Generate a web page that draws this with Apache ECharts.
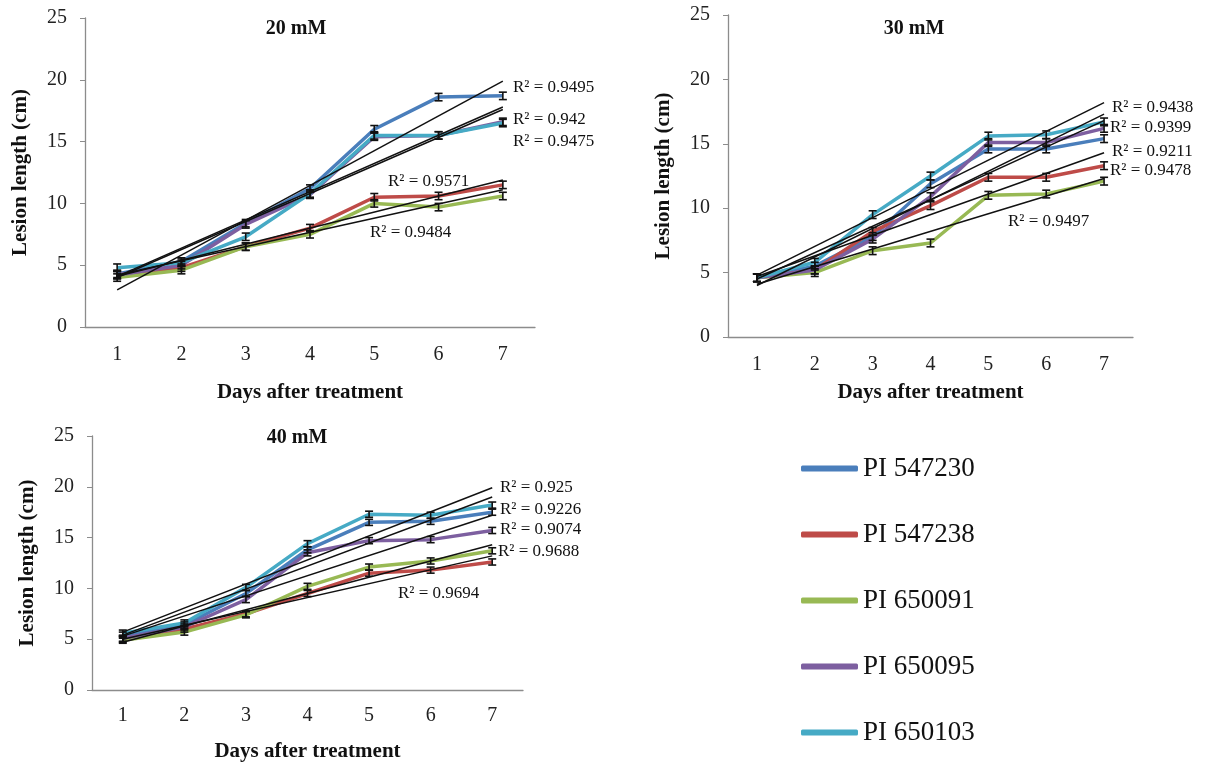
<!DOCTYPE html>
<html lang="en">
<head>
  <meta charset="UTF-8">
  <title>Lesion length</title>
  <script src="https://cdn.jsdelivr.net/npm/echarts@6/dist/echarts.min.js"></script>
  <style>
    html, body { margin: 0; padding: 0; background: #fff; }
    #chart { width: 1205px; height: 767px; }
  </style>
</head>
<body>
  <div id="chart"></div>
  <script>
    // categories + series names
    var days = ['1', '2', '3', '4', '5', '6', '7'];
    var lines = ['PI 547230', 'PI 547238', 'PI 650091', 'PI 650095', 'PI 650103'];
    var yTicks = [0, 5, 10, 15, 20, 25];

    // lesion length (cm), one row per line, order as in `lines`
    var lesion20 = [
      [4.3, 5.3, 8.4, 11.2, 16.0, 18.6, 18.7],
      [4.2, 4.8, 6.5, 8.0, 10.5, 10.6, 11.5],
      [4.0, 4.6, 6.5, 7.5, 10.0, 9.7, 10.6],
      [4.2, 5.0, 8.3, 10.7, 15.4, 15.5, 16.6],
      [4.8, 5.2, 7.3, 10.8, 15.5, 15.5, 16.5]
    ];
    var lesion30 = [
      [4.6, 5.5, 7.8, 11.9, 14.6, 14.6, 15.4],
      [4.6, 5.2, 8.2, 10.2, 12.4, 12.4, 13.3],
      [4.6, 5.0, 6.7, 7.3, 11.0, 11.1, 12.1],
      [4.6, 5.2, 7.6, 10.9, 15.1, 15.1, 16.2],
      [4.6, 5.8, 9.5, 12.5, 15.6, 15.7, 16.7]
    ];
    var lesion40 = [
      [5.4, 6.4, 9.5, 13.8, 16.5, 16.6, 17.5],
      [5.0, 6.0, 7.5, 9.5, 11.5, 11.8, 12.6],
      [4.9, 5.7, 7.4, 10.2, 12.1, 12.7, 13.7],
      [5.1, 6.2, 8.9, 13.5, 14.7, 14.8, 15.7],
      [5.6, 6.6, 10.1, 14.4, 17.3, 17.2, 18.2]
    ];

    // linear trend lines: value at day 1 and day 7
    var trend20 = [[3.0, 19.9], [4.1, 11.9], [4.2, 11.1], [4.1, 17.8], [4.0, 17.6]];
    var trend30 = [[4.5, 16.8], [4.7, 14.3], [4.1, 12.3], [4.0, 17.3], [4.8, 18.2]];
    var trend40 = [[5.4, 19.0], [5.0, 13.2], [4.7, 14.3], [5.3, 17.2], [5.7, 19.9]];

    // R² labels, as printed
    var r2_20 = ['0.9495', '0.942', '0.9475', '0.9571', '0.9484'];
    var r2_30 = ['0.9438', '0.9399', '0.9211', '0.9478', '0.9497'];
    var r2_40 = ['0.925', '0.9226', '0.9074', '0.9688', '0.9694'];

    var errBar = 0.3;

    var colors = ['#4a7ebb', '#be4b48', '#98b954', '#7d5fa0', '#46aac5'];
    var serif = '"Liberation Serif", "Times New Roman", serif';

    var panels = [
      { title: '20 mM', data: lesion20, trend: trend20, r2: r2_20,
        grid: { left: 85, top: 18, width: 450, height: 309 },
        titlePos: [296, 29], yNameGap: 54, xNameGap: 55, xMargin: 18,
        r2Pos: [[513, 88], [513, 120], [513, 142], [388, 182], [370, 233]] },
      { title: '30 mM', data: lesion30, trend: trend30, r2: r2_30,
        grid: { left: 728, top: 15, width: 405, height: 322 },
        titlePos: [914, 29], yNameGap: 54, xNameGap: 45, xMargin: 18,
        r2Pos: [[1112, 108], [1110, 128], [1112, 152], [1110, 171], [1008, 222]] },
      { title: '40 mM', data: lesion40, trend: trend40, r2: r2_40,
        grid: { left: 92, top: 436, width: 431, height: 254 },
        titlePos: [297, 438], yNameGap: 54, xNameGap: 51, xMargin: 16,
        r2Pos: [[500, 488], [500, 510], [500, 530], [498, 552], [398, 594]] }
    ];

    var grids = [], xAxes = [], yAxes = [], series = [], graphics = [];

    panels.forEach(function (p, pi) {
      grids.push(p.grid);
      xAxes.push({
        gridIndex: pi, type: 'category', data: days, boundaryGap: true,
        axisTick: { show: false },
        axisLine: { lineStyle: { color: '#8c8c8c', width: 1.3 } },
        axisLabel: { fontSize: 20, fontFamily: serif, color: '#222', margin: p.xMargin },
        name: 'Days after treatment', nameLocation: 'middle', nameGap: p.xNameGap,
        nameTextStyle: { fontSize: 21, fontWeight: 'bold', fontFamily: serif, color: '#111' }
      });
      yAxes.push({
        gridIndex: pi, type: 'value', min: yTicks[0], max: yTicks[yTicks.length - 1], interval: 5,
        splitLine: { show: false },
        axisLine: { show: true, lineStyle: { color: '#8c8c8c', width: 1.3 } },
        axisTick: { show: true, length: 5, lineStyle: { color: '#8c8c8c' } },
        axisLabel: { fontSize: 20, fontFamily: serif, color: '#222', margin: 18 },
        name: 'Lesion length (cm)', nameLocation: 'middle', nameGap: p.yNameGap,
        nameTextStyle: { fontSize: 21, fontWeight: 'bold', fontFamily: serif, color: '#111' }
      });

      p.data.forEach(function (vals, si) {
        series.push({
          name: lines[si], type: 'line', xAxisIndex: pi, yAxisIndex: pi,
          data: vals, symbol: 'none', z: 2,
          lineStyle: { width: 3.5, color: colors[si] },
          itemStyle: { color: colors[si] }
        });
      });
      p.data.forEach(function (vals, si) {
        series.push({
          type: 'custom', xAxisIndex: pi, yAxisIndex: pi, z: 3,
          data: vals.map(function (v, i) { return [i, v]; }),
          encode: { x: 0, y: 1 },
          renderItem: function (params, api) {
            var x = api.value(0), y = api.value(1);
            var lo = api.coord([x, y - errBar]);
            var hi = api.coord([x, y + errBar]);
            var st = { stroke: '#111', lineWidth: 1.6 };
            return { type: 'group', children: [
              { type: 'line', shape: { x1: lo[0], y1: lo[1], x2: hi[0], y2: hi[1] }, style: st },
              { type: 'line', shape: { x1: lo[0] - 4, y1: lo[1], x2: lo[0] + 4, y2: lo[1] }, style: st },
              { type: 'line', shape: { x1: hi[0] - 4, y1: hi[1], x2: hi[0] + 4, y2: hi[1] }, style: st }
            ] };
          }
        });
      });
      p.trend.forEach(function (t) {
        series.push({
          type: 'line', xAxisIndex: pi, yAxisIndex: pi, symbol: 'none', z: 4,
          data: [[0, t[0]], [days.length - 1, t[1]]],
          lineStyle: { width: 1.5, color: '#111' }
        });
      });

      graphics.push({
        type: 'text', x: p.titlePos[0], y: p.titlePos[1],
        style: { text: p.title, fontSize: 20, fontWeight: 'bold', fontFamily: serif,
                 fill: '#111', align: 'center', verticalAlign: 'middle' }
      });
      p.r2.forEach(function (r, k) {
        graphics.push({
          type: 'text', x: p.r2Pos[k][0], y: p.r2Pos[k][1],
          style: { text: 'R² = ' + r, fontSize: 17, fontFamily: serif,
                   fill: '#111', align: 'left', verticalAlign: 'middle' }
        });
      });
    });

    var chart = echarts.init(document.getElementById('chart'));
    chart.setOption({
      animation: false,
      grid: grids,
      xAxis: xAxes,
      yAxis: yAxes,
      legend: {
        data: lines, orient: 'vertical', left: 796, top: 450,
        icon: 'roundRect', itemWidth: 57, itemHeight: 6, itemGap: 39,
        textStyle: { fontSize: 27, lineHeight: 27, fontFamily: serif, color: '#111' }
      },
      graphic: graphics,
      series: series
    });
  </script>
</body>
</html>
